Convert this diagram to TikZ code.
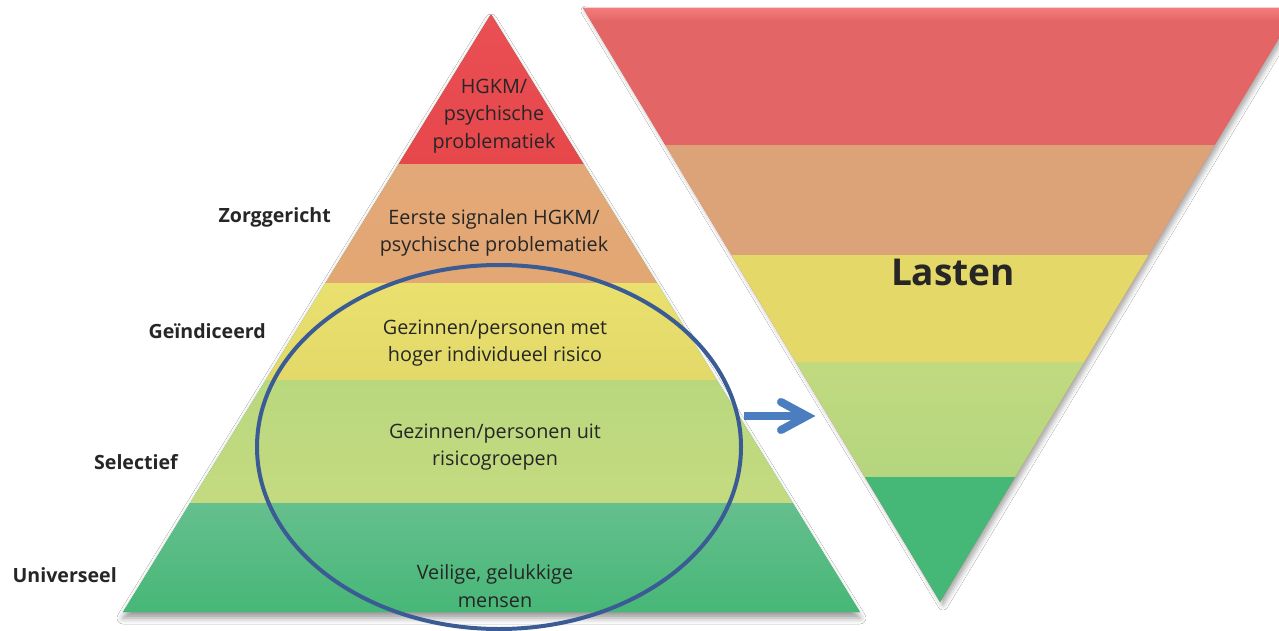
\documentclass[tikz,border=0pt]{standalone}
\usepackage{fontspec}
\setmainfont{Open Sans}
\usetikzlibrary{shapes.geometric,shadows.blur}
\definecolor{pRedA}{HTML}{EA5055}
\definecolor{pRedB}{HTML}{E6474B}
\definecolor{pOrA}{HTML}{E3A878}
\definecolor{pOrB}{HTML}{E2A772}
\definecolor{pYeA}{HTML}{E9E06E}
\definecolor{pYeB}{HTML}{E2D96A}
\definecolor{pLgA}{HTML}{B9D87E}
\definecolor{pLgB}{HTML}{C4DA80}
\definecolor{pDgA}{HTML}{65BF8E}
\definecolor{pDgB}{HTML}{47B777}
\definecolor{iRed}{HTML}{E36565}
\definecolor{iRedTop}{HTML}{F47B7B}
\definecolor{iOr}{HTML}{DDA378}
\definecolor{iYe}{HTML}{E3D868}
\definecolor{iLgA}{HTML}{C1DA80}
\definecolor{iLgB}{HTML}{B4D67E}
\definecolor{iDg}{HTML}{45B877}
\definecolor{ringblue}{HTML}{3B5B94}
\definecolor{arrowblue}{HTML}{4A7EC1}
\definecolor{txt}{HTML}{262626}
\tikzset{
  bandtext/.style={text=txt, align=center, font=\fontsize{19.8}{27.5}\selectfont, inner sep=0pt},
  sidelabel/.style={text=txt, anchor=east, font=\fontsize{19.6}{24}\selectfont\bfseries, inner sep=0pt},
  arrowpart/.style={draw=arrowblue, line width=8pt, line cap=round, line join=miter},
}
\begin{document}
\begin{tikzpicture}[x=1pt,y=-1pt]
\useasboundingbox (0,0) rectangle (1279,631);
\fill[white] (0,0) rectangle (1279,631);
% ---------- inverted triangle ----------
\fill[iRed, blur shadow={shadow xshift=3pt, shadow yshift=-3pt, shadow blur radius=5pt, shadow opacity=35}]
  (583,8) -- (1297,8) -- (940,602) -- cycle;
\begin{scope}
  \clip (583,8) -- (1297,8) -- (940,602) -- cycle;
  \shade[top color=iRedTop, bottom color=iRed] (560,8) rectangle (1300,22);
  \fill[iRed] (560,22) rectangle (1300,145);
  \fill[iOr] (560,145) rectangle (1300,255);
  \fill[iYe] (560,255) rectangle (1300,362);
  \shade[top color=iLgA, bottom color=iLgB] (560,362) rectangle (1300,477);
  \fill[iDg] (560,477) rectangle (1300,610);
\end{scope}
% ---------- pyramid ----------
\fill[pDgB, blur shadow={shadow xshift=0pt, shadow yshift=-6pt, shadow blur radius=6pt, shadow opacity=40}]
  (491,14) -- (860,612) -- (123,612) -- cycle;
\begin{scope}
  \clip (491,14) -- (860,612) -- (123,612) -- cycle;
  \shade[top color=pRedA, bottom color=pRedB] (100,0) rectangle (900,165);
  \shade[top color=pOrA, bottom color=pOrB] (100,165) rectangle (900,283);
  \shade[top color=pYeA, bottom color=pYeB] (100,283) rectangle (900,380);
  \shade[top color=pLgA, bottom color=pLgB] (100,380) rectangle (900,503);
  \shade[top color=pDgA, bottom color=pDgB] (100,503) rectangle (900,612);
\end{scope}
% ---------- texts in pyramid ----------
\node[bandtext] (t1) at (494,116) {HGKM/\\psychische\\problematiek};
\node[bandtext] (t2) at (494,233) {Eerste signalen HGKM/\\psychische problematiek};
\node[bandtext] (t3) at (495,343) {Gezinnen/personen met\\hoger individueel risico};
\node[bandtext] (t4) at (495,447) {Gezinnen/personen uit\\risicogroepen};
\node[bandtext] (t5) at (495,586) {Veilige, gelukkige\\mensen};
% ---------- side labels ----------
\node[sidelabel] (l1) at (331,217) {Zorggericht};
\node[sidelabel] (l2) at (266,331) {Geïndiceerd};
\node[sidelabel] (l3) at (178,462) {Selectief};
\node[sidelabel] (l4) at (117,575) {Universeel};
% ---------- Lasten ----------
\node[text=txt, font=\fontsize{37}{40}\selectfont\bfseries, inner sep=0pt] (lasten) at (953,272) {Lasten};
% ---------- ring ----------
\node[draw=ringblue, line width=4pt, ellipse, minimum width=484pt, minimum height=364pt, inner sep=0pt] (ring) at (499,447) {};
% ---------- arrow ----------
\coordinate (arrowstart) at (744,416);
\coordinate (arrowend) at (807,416);
\draw[arrowpart, line cap=butt] (arrowstart) -- (arrowend);
\draw[arrowpart] ([xshift=-26pt,yshift=14pt]arrowend) -- (arrowend) -- ([xshift=-26pt,yshift=-14pt]arrowend);
\end{tikzpicture}
\end{document}
